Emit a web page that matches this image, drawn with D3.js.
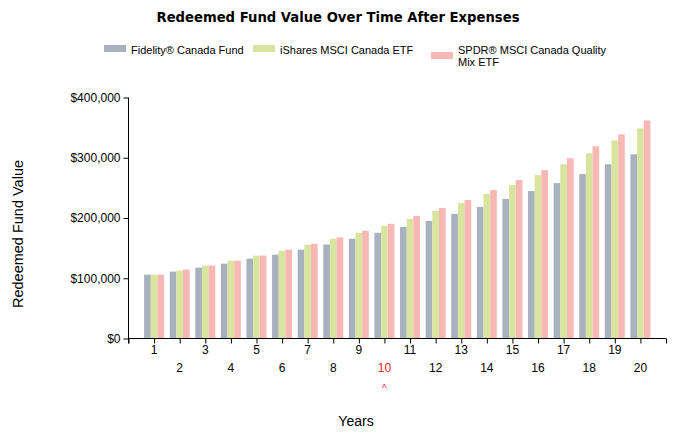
<!DOCTYPE html>
<html>
<head>
<meta charset="utf-8">
<script src="https://cdn.jsdelivr.net/npm/d3@7"></script>
<style>
  body { margin: 0; background: #fff; }
  svg text { font-family: "Liberation Sans", Arial, sans-serif; fill: #000; }
</style>
</head>
<body>
<svg id="chart" width="677" height="436"></svg>
<script>
// values
const years = d3.range(1, 21);
const seriesNames = ["Fidelity® Canada Fund", "iShares MSCI Canada ETF", "SPDR® MSCI Canada Quality Mix ETF"];
const seriesColors = ["#a8b1be", "#d9e59f", "#f7b8b4"];
const fidelity = [106000, 111000, 117500, 124200, 132500, 139100, 147400, 156000, 165500, 175400,
                  185300, 195200, 206800, 218300, 231500, 244700, 257900, 272800, 289300, 305800];
const ishares  = [106000, 112700, 121000, 129200, 137500, 145700, 155600, 165500, 175400, 187000,
                  198500, 211700, 224900, 239800, 254600, 271100, 289300, 307400, 328900, 348700];
const spdr     = [106000, 114400, 121000, 129200, 137500, 147400, 157300, 167700, 178700, 190300,
                  203500, 216700, 229900, 246400, 262900, 279400, 299200, 319000, 338800, 361900];
const yTicks = [0, 100000, 200000, 300000, 400000];
const highlightYear = 10;

const svg = d3.select("#chart");
const x = d3.scaleLinear().domain([0, 21]).range([128.5, 666]);
const y = d3.scaleLinear().domain([0, 400000]).range([338.5, 97.5]);
const x1 = d3.scaleBand().domain([0, 1, 2]).range([-10, 10]);

const table = years.map((yr, i) => ({ year: yr, values: [fidelity[i], ishares[i], spdr[i]] }));

// title
svg.append("text").attr("x", 338).attr("y", 22).attr("text-anchor", "middle")
  .style("font-family", "'DejaVu Sans', sans-serif").style("font-weight", "bold").style("font-size", "13.2px")
  .text("Redeemed Fund Value Over Time After Expenses");

// legend
const legend = [
  { x: 104, lines: [seriesNames[0]] },
  { x: 253, lines: [seriesNames[1]] },
  { x: 431, lines: ["SPDR® MSCI Canada Quality", "Mix ETF"] }
];
legend.forEach((l, i) => {
  const sy = l.lines.length > 1 ? 52 : 45;
  svg.append("rect").attr("x", l.x).attr("y", sy).attr("width", 22).attr("height", 7).attr("fill", seriesColors[i]);
  l.lines.forEach((t, j) => {
    svg.append("text").attr("x", l.x + 27).attr("y", 54 + j * 12).style("font-size", "11px").text(t);
  });
});

// bars
const groups = svg.append("g").selectAll("g").data(table).join("g")
  .attr("transform", d => `translate(${x(d.year)},0)`);
groups.selectAll("rect").data(d => d.values).join("rect")
  .attr("x", (v, i) => x1(i))
  .attr("width", x1.bandwidth())
  .attr("y", v => y(v))
  .attr("height", v => y(0) - y(v))
  .attr("fill", (v, i) => seriesColors[i]);

// y axis
const yAxis = svg.append("g").attr("transform", "translate(128.5,0)")
  .call(d3.axisLeft(y).tickValues(yTicks).tickSize(5).tickFormat(d => "$" + d3.format(",")(d)));
yAxis.select(".domain").attr("d", `M0,${y(400000)}V${y(0) + 5}`);
yAxis.selectAll("text").style("font-size", "12px").attr("x", -8);

// x axis
const xAxis = svg.append("g").attr("transform", `translate(0,${y(0)})`)
  .call(d3.axisBottom(x).tickValues(d3.range(0, 22)).tickSize(5).tickFormat(""));
xAxis.select(".domain").attr("d", `M${x(0)},0H${x(21)}`);

svg.append("g").selectAll("text").data(years).join("text")
  .attr("x", d => x(d))
  .attr("y", d => d % 2 === 1 ? 354 : 372)
  .attr("text-anchor", "middle")
  .style("font-size", "12px")
  .style("fill", d => d === highlightYear ? "#e8202a" : "#000")
  .text(d => d);
svg.append("text").attr("x", x(highlightYear)).attr("y", 392).attr("text-anchor", "middle")
  .style("font-size", "10px").style("fill", "#e8202a").text("^");

// axis titles
svg.append("text").attr("transform", "translate(23,234) rotate(-90)").attr("text-anchor", "middle")
  .style("font-size", "14.5px").text("Redeemed Fund Value");
svg.append("text").attr("x", 356).attr("y", 426).attr("text-anchor", "middle")
  .style("font-size", "14px").text("Years");
</script>
</body>
</html>
